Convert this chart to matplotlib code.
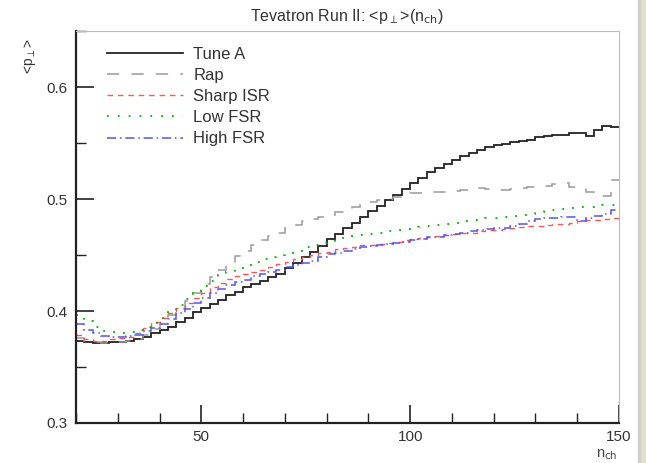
import numpy as np
import matplotlib
matplotlib.use('Agg')
import matplotlib.pyplot as plt
from matplotlib.patches import Rectangle

plt.rcParams['font.family'] = ['Liberation Sans', 'DejaVu Sans']

# Binning: n_ch from 20 to 150, bins of width 2
bin_edges = np.arange(20, 152, 2)

tune_a = [0.373, 0.372, 0.371, 0.371, 0.372, 0.372, 0.373, 0.375, 0.377, 0.380,
          0.383, 0.386, 0.390, 0.394, 0.399, 0.403, 0.406, 0.410, 0.414, 0.417,
          0.421, 0.424, 0.427, 0.430, 0.433, 0.438, 0.443, 0.448, 0.453, 0.458,
          0.464, 0.469, 0.474, 0.479, 0.484, 0.489, 0.494, 0.499, 0.504, 0.509,
          0.514, 0.519, 0.524, 0.528, 0.531, 0.535, 0.538, 0.541, 0.544, 0.546,
          0.548, 0.549, 0.551, 0.552, 0.553, 0.555, 0.556, 0.557, 0.557, 0.559,
          0.559, 0.556, 0.562, 0.565, 0.564]

rap = [0.376, 0.373, 0.372, 0.371, 0.372, 0.372, 0.373, 0.375, 0.379, 0.384,
       0.389, 0.396, 0.402, 0.409, 0.416, 0.424, 0.430, 0.437, 0.443, 0.449,
       0.454, 0.459, 0.463, 0.467, 0.470, 0.474, 0.477, 0.480, 0.482, 0.484,
       0.486, 0.488, 0.490, 0.493, 0.495, 0.497, 0.499, 0.500, 0.502, 0.504,
       0.505, 0.505, 0.506, 0.506, 0.506, 0.507, 0.508, 0.509, 0.510, 0.509,
       0.508, 0.508, 0.509, 0.510, 0.511, 0.511, 0.512, 0.513, 0.514, 0.511,
       0.510, 0.506, 0.504, 0.503, 0.517]

sharp_isr = [0.379, 0.375, 0.373, 0.373, 0.375, 0.376, 0.377, 0.380, 0.385, 0.390,
             0.394, 0.398, 0.403, 0.407, 0.412, 0.416, 0.421, 0.425, 0.429, 0.431,
             0.433, 0.435, 0.437, 0.439, 0.442, 0.444, 0.446, 0.448, 0.450, 0.452,
             0.453, 0.455, 0.456, 0.457, 0.459, 0.459, 0.460, 0.461, 0.462, 0.463,
             0.464, 0.465, 0.466, 0.467, 0.468, 0.469, 0.470, 0.470, 0.471, 0.472,
             0.472, 0.473, 0.474, 0.475, 0.476, 0.476, 0.477, 0.478, 0.478, 0.479,
             0.480, 0.481, 0.481, 0.482, 0.483]

low_fsr = [0.396, 0.391, 0.386, 0.382, 0.381, 0.380, 0.381, 0.383, 0.386, 0.389,
           0.394, 0.399, 0.405, 0.411, 0.416, 0.422, 0.427, 0.432, 0.435, 0.438,
           0.441, 0.444, 0.446, 0.448, 0.450, 0.452, 0.454, 0.457, 0.459, 0.461,
           0.462, 0.464, 0.465, 0.467, 0.468, 0.469, 0.470, 0.471, 0.472, 0.473,
           0.474, 0.475, 0.476, 0.477, 0.478, 0.479, 0.480, 0.481, 0.482, 0.483,
           0.483, 0.484, 0.485, 0.486, 0.487, 0.488, 0.490, 0.490, 0.491, 0.492,
           0.493, 0.493, 0.494, 0.495, 0.495]

high_fsr = [0.388, 0.383, 0.380, 0.378, 0.377, 0.377, 0.378, 0.379, 0.382, 0.385,
            0.388, 0.393, 0.398, 0.402, 0.407, 0.412, 0.416, 0.420, 0.423, 0.426,
            0.428, 0.431, 0.433, 0.435, 0.437, 0.439, 0.441, 0.443, 0.445, 0.448,
            0.451, 0.452, 0.454, 0.455, 0.457, 0.458, 0.459, 0.460, 0.461, 0.462,
            0.463, 0.464, 0.466, 0.466, 0.468, 0.469, 0.470, 0.471, 0.472, 0.473,
            0.474, 0.474, 0.476, 0.478, 0.480, 0.482, 0.483, 0.483, 0.484, 0.484,
            0.480, 0.483, 0.485, 0.487, 0.490]

fig = plt.figure(figsize=(6.46, 4.63), dpi=100)
ax = fig.add_axes([0.1176, 0.0864, 0.8406, 0.8466])

# beige strip on the right border
fig.patches.append(Rectangle((0.990, 0), 0.010, 1, transform=fig.transFigure,
                             color='#e4e0c6', zorder=0))
fig.patches.append(Rectangle((0.9875, 0), 0.0025, 1, transform=fig.transFigure,
                             color='#cfcfcf', zorder=0))

ax.stairs(tune_a, bin_edges, baseline=None, color='#222222', lw=1.3, label='Tune A')
ax.stairs(rap, bin_edges, baseline=None, color='#9a9a9a', lw=1.1,
          linestyle=(0, (8, 8)), label='Rap')
ax.stairs(sharp_isr, bin_edges, baseline=None, color='#ff5555', lw=1.0,
          linestyle=(0, (4, 3.5)), label='Sharp ISR')
ax.stairs(low_fsr, bin_edges, baseline=None, color='#00b400', lw=1.3,
          linestyle=(0, (1, 5)), label='Low FSR')
ax.stairs(high_fsr, bin_edges, baseline=None, color='#5555ee', lw=1.1,
          linestyle=(0, (6, 2.5, 1, 2.5)), label='High FSR')

ax.set_xlim(20, 150)
ax.set_ylim(0.3, 0.65)

ax.set_xticks([50, 100, 150])
ax.set_xticks(np.arange(20, 151, 10), minor=True)
ax.set_yticks([0.3, 0.4, 0.5, 0.6])
ax.set_yticklabels(['0.3', '0.4', '0.5', '0.6'])
ax.set_yticks([0.35, 0.45, 0.55, 0.65], minor=True)
ax.tick_params(which='major', direction='in', length=13, width=1.2, colors='#222222',
               labelsize=11, labelcolor='#333333', pad=6)
ax.tick_params(which='minor', direction='in', length=7, width=1.0, colors='#222222')
ax.tick_params(axis='x', which='major', pad=5)

for side in ['left', 'bottom']:
    ax.spines[side].set_linewidth(1.6)
    ax.spines[side].set_color('#222222')
for side in ['top', 'right']:
    ax.spines[side].set_linewidth(0.8)
    ax.spines[side].set_color('#bbbbbb')

fig.text(0.537, 0.965, r'Tevatron Run II: <p$_{\perp}$>(n$_{\rm ch}$)', ha='center',
         va='center', fontsize=11.5, color='#333333')
fig.text(0.94, 0.018, r'n$_{\rm ch}$', ha='center', va='center', fontsize=10.5, color='#444444')
fig.text(0.047, 0.88, r'<p$_{\perp}$>', rotation=90, ha='center', va='center',
         fontsize=10, color='#333333')

leg = ax.legend(loc='upper left', bbox_to_anchor=(0.029, 0.998), frameon=False,
                fontsize=12, handlelength=4.6, handletextpad=0.6, labelspacing=0.37)
for t in leg.get_texts():
    t.set_color('#333333')

fig.savefig('out.png', dpi=100)
